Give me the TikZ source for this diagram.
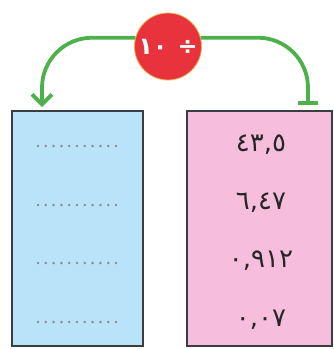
\documentclass[tikz,border=0pt]{standalone}
\usepackage{fontspec}
\newfontfamily\arabicfont[Script=Arabic]{DejaVu Sans}
\usetikzlibrary{arrows.meta}
\definecolor{boxblue}{HTML}{B9E3F8}
\definecolor{boxpink}{HTML}{F6BEDC}
\definecolor{lgreen}{HTML}{4DB04A}
\definecolor{cred}{HTML}{E8323C}
\definecolor{corange}{HTML}{F3B04A}
\definecolor{edgegray}{HTML}{3A3D42}
\definecolor{dotgray}{HTML}{8C8C8C}
\begin{document}
\begin{tikzpicture}[x=1pt,y=-1pt,
  panel/.style={draw=edgegray, line width=1.6pt, minimum width=#1, minimum height=235pt, inner sep=0pt},
  numtext/.style={font=\arabicfont\fontsize{26}{28}\selectfont, text=black!85, inner sep=0pt},
  link/.style={draw=lgreen, line width=3.8pt, rounded corners=50pt},
  dotline/.style={draw=dotgray, line width=2.8pt, line cap=round, dash pattern=on 0pt off 7.8pt},
  badge/.style={circle, fill=cred, draw=corange, line width=0.8pt, minimum size=67pt, inner sep=0pt, text=white, font=\arabicfont\bfseries\fontsize{24}{26}\selectfont}
]
\useasboundingbox (0,0) rectangle (334,349);
\node[panel=131pt, fill=boxblue] (L) at (77.5,228.5) {};
\node[panel=145pt, fill=boxpink] (R) at (259.5,228.5) {};
\node[badge] (C) at (168,46.5) {١٠\hspace{10pt}÷};
\coordinate (la) at (42,107);
\coordinate (ra) at (308,105);
\draw[link, -{Straight Barb[length=10pt,width=20pt]}] (C.165) -| (la);
\draw[link, -{Bar[width=20pt]}] (C.15) -| (ra);
\foreach \y in {146,205,263,322}{
  \draw[dotline] (38,\y) -- (117,\y);
}
\node[numtext] (n1) at (261,145) {٤٣,٥};
\node[numtext] (n2) at (261,203) {٦,٤٧};
\node[numtext] (n3) at (261,261) {٠,٩١٢};
\node[numtext] (n4) at (261,320) {٠,٠٧};
\end{tikzpicture}
\end{document}
